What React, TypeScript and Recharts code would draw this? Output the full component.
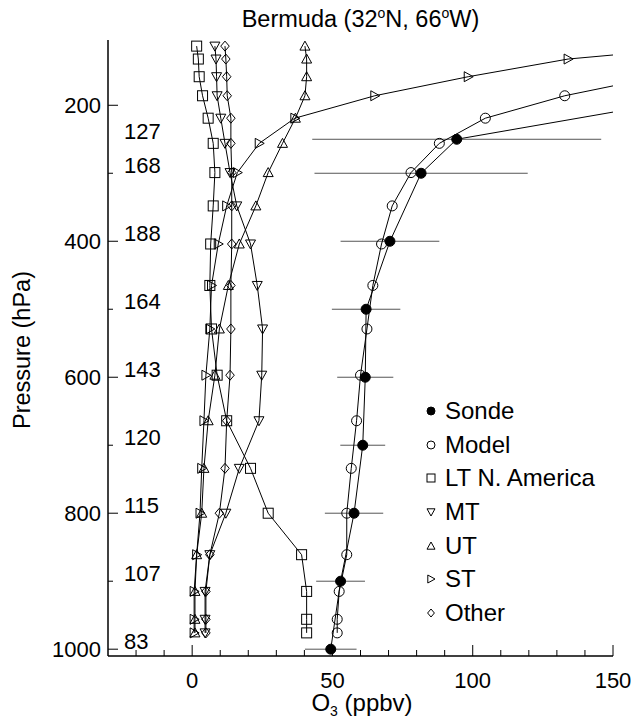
import React from "react";
import { ScatterChart, Scatter, XAxis, YAxis, ErrorBar } from "recharts";

// model levels (hPa) shared by the model and its tagged contributions
const MODEL_P = [113, 132, 158, 186, 219, 256, 299, 348, 404, 465, 529, 597, 664, 734, 800, 861, 915, 956, 976];
const MODEL_O3 = [230, 200, 166, 132.8, 104.5, 88.1, 78.0, 71.3, 67.5, 64.4, 62.3, 60.0, 58.6, 56.7, 55.1, 55.1, 52.4, 51.7, 51.7];
const LT_NAM = [1.6, 2.2, 2.5, 3.7, 5.7, 7.5, 8.1, 7.5, 6.6, 6.3, 6.9, 8.9, 12.3, 20.8, 27.1, 39.0, 40.8, 40.8, 40.8];
const MT = [8.1, 8.5, 8.7, 8.9, 10.2, 11.7, 13.5, 15.9, 20.8, 23.2, 25.1, 24.8, 23.8, 16.8, 12.0, 6.3, 4.6, 4.6, 4.6];
const UT = [40.2, 40.8, 40.8, 40.2, 36.8, 32.2, 27.1, 22.7, 16.8, 12.9, 9.7, 8.1, 5.7, 4.2, 3.4, 1.6, 1.0, 1.0, 1.0];
const ST = [185, 134.0, 98.4, 65.1, 36.6, 23.9, 16.1, 12.3, 9.3, 6.9, 6.3, 4.9, 4.2, 3.4, 2.8, 1.6, 0.7, 0.7, 0.7];
const OTHER = [11.7, 12.0, 12.3, 12.5, 13.8, 13.8, 14.1, 14.1, 14.1, 13.8, 13.8, 13.5, 12.3, 11.7, 9.7, 6.3, 4.9, 4.9, 4.9];

// ozonesonde means with spread
const SONDE_P = [200, 250, 300, 400, 500, 600, 700, 800, 900, 1000];
const SONDE_O3 = [164, 94.3, 81.6, 70.5, 62.0, 61.7, 60.8, 57.7, 52.9, 49.4];
const SONDE_ERR = [0, 51.5, 38, 17.6, 12.2, 10, 8, 10.4, 8.7, 9.2];

// number of soundings at each level
const COUNT_P = [250, 300, 400, 500, 600, 700, 800, 900, 1000];
const COUNT_N = [127, 168, 188, 164, 143, 120, 115, 107, 83];

const X_TICKS = [-20, -10, 0, 10, 20, 30, 40, 50, 60, 70, 80, 90, 100, 110, 120, 130, 140, 150];
const Y_TICKS = [200, 300, 400, 500, 600, 700, 800, 900, 1000];
const LEGEND_NAMES = ["Sonde", "Model", "LT N. America", "MT", "UT", "ST", "Other"];
const LEGEND_KINDS = ["dot", "circle", "square", "down", "up", "right", "diamond"];

const FONT = '"Liberation Sans", Arial, Helvetica, sans-serif';
const COUNT_X = -24.3;

const toPoints = (vals: number[]) => MODEL_P.map((p, i) => ({ x: vals[i], y: p }));

const sondeData = SONDE_P.map((p, i) => ({ x: SONDE_O3[i], y: p, err: SONDE_ERR[i] }));
const countData = COUNT_P.map((p, i) => ({ x: COUNT_X, y: p, n: COUNT_N[i] }));

const markerPath = (kind: string, cx: number, cy: number, s: number) => {
  switch (kind) {
    case "dot":
      return <circle cx={cx} cy={cy} r={s} fill="#000" stroke="#000" />;
    case "circle":
      return <circle cx={cx} cy={cy} r={s} fill="none" stroke="#000" />;
    case "square":
      return <rect x={cx - s} y={cy - s} width={2 * s} height={2 * s} fill="none" stroke="#000" />;
    case "down":
      return <path d={`M${cx - s},${cy - s * 0.8}L${cx + s},${cy - s * 0.8}L${cx},${cy + s}Z`} fill="none" stroke="#000" />;
    case "up":
      return <path d={`M${cx - s},${cy + s * 0.8}L${cx + s},${cy + s * 0.8}L${cx},${cy - s}Z`} fill="none" stroke="#000" />;
    case "right":
      return <path d={`M${cx - s * 0.8},${cy - s}L${cx - s * 0.8},${cy + s}L${cx + s},${cy}Z`} fill="none" stroke="#000" />;
    default:
      return <path d={`M${cx},${cy - s}L${cx + s * 0.85},${cy}L${cx},${cy + s}L${cx - s * 0.85},${cy}Z`} fill="none" stroke="#000" />;
  }
};

const shapeOf = (kind: string, s: number) => (props: any) => markerPath(kind, props.cx, props.cy, s);

const countShape = (props: any) => (
  <text x={props.cx} y={props.cy} fontSize={22} fontFamily={FONT} fill="#000">
    {props.payload.n}
  </text>
);

const BottomTick = (props: any) => {
  const { x, y, payload } = props;
  const major = payload.value % 50 === 0;
  return (
    <g>
      <line x1={x} x2={x} y1={y} y2={y - (major ? 11 : 6)} stroke="#000" />
      {major && (
        <text x={x} y={y + 32} textAnchor="middle" fontSize={22} fontFamily={FONT} fill="#000">
          {payload.value}
        </text>
      )}
    </g>
  );
};

const TopTick = (props: any) => {
  const { x, y, payload } = props;
  const major = payload.value % 50 === 0;
  return <line x1={x} x2={x} y1={y} y2={y + (major ? 11 : 6)} stroke="#000" />;
};

const LeftTick = (props: any) => {
  const { x, y, payload } = props;
  const major = payload.value % 200 === 0;
  return (
    <g>
      <line x1={x} x2={x + (major ? 10 : 5)} y1={y} y2={y} stroke="#000" />
      {major && (
        <text x={x - 7} y={y + 8} textAnchor="end" fontSize={22} fontFamily={FONT} fill="#000">
          {payload.value}
        </text>
      )}
    </g>
  );
};

const RightTick = (props: any) => {
  const { x, y, payload } = props;
  const major = payload.value % 200 === 0;
  return <line x1={x} x2={x - (major ? 10 : 5)} y1={y} y2={y} stroke="#000" />;
};

const XLabel = () => (
  <text x={362} y={711} textAnchor="middle" fontSize={24} fontFamily={FONT} fill="#000">
    O<tspan dy={5} fontSize={14}>3</tspan>
    <tspan dy={-5}> (ppbv)</tspan>
  </text>
);

const YLabel = () => (
  <text x={30} y={350} transform="rotate(-90, 30, 350)" textAnchor="middle" fontSize={23.5} fontFamily={FONT} fill="#000">
    Pressure (hPa)
  </text>
);

const Title = () => (
  <div
    style={{
      position: "absolute",
      left: 108,
      top: 6,
      width: 505,
      textAlign: "center",
      fontFamily: FONT,
      fontSize: 23.5,
      lineHeight: "27px",
      color: "#000",
    }}
  >
    Bermuda (32<sup style={{ fontSize: 14, lineHeight: 0 }}>o</sup>N, 66<sup style={{ fontSize: 14, lineHeight: 0 }}>o</sup>W)
  </div>
);

const LegendBox = () => (
  <div style={{ position: "absolute", left: 425, top: 394, fontFamily: FONT, fontSize: 24, color: "#000" }}>
    {LEGEND_NAMES.map((name, i) => (
      <div key={name} style={{ height: 33.7, display: "flex", alignItems: "center" }}>
        <svg width={12} height={12} style={{ marginRight: 8 }}>
          {markerPath(LEGEND_KINDS[i], 6, 6, 4)}
        </svg>
        <span>{name}</span>
      </div>
    ))}
  </div>
);

const lineStyle = { stroke: "#000", strokeWidth: 1 };

export default function App() {
  return (
    <div style={{ width: 636, height: 718, position: "relative", background: "#fff" }}>
      <style>{"body{margin:0}"}</style>
      <ScatterChart width={636} height={718} margin={{ top: 40, right: 23, bottom: 0, left: 0 }}>
        <XAxis
          dataKey="x"
          type="number"
          domain={[-30, 150]}
          allowDataOverflow
          ticks={X_TICKS}
          interval={0}
          tickSize={0}
          tickMargin={0}
          height={62}
          tickLine={false}
          axisLine={{ stroke: "#000", strokeWidth: 1.5 }}
          tick={<BottomTick />}
          label={{ content: <XLabel /> }}
        />
        <XAxis
          xAxisId="top"
          orientation="top"
          dataKey="x"
          type="number"
          domain={[-30, 150]}
          allowDataOverflow
          ticks={X_TICKS}
          interval={0}
          tickSize={0}
          tickMargin={0}
          height={0}
          tickLine={false}
          axisLine={{ stroke: "#000", strokeWidth: 1.5 }}
          tick={<TopTick />}
        />
        <YAxis
          dataKey="y"
          type="number"
          domain={[104, 1010]}
          reversed
          allowDataOverflow
          ticks={Y_TICKS}
          interval={0}
          tickSize={0}
          tickMargin={0}
          width={108}
          tickLine={false}
          axisLine={{ stroke: "#000", strokeWidth: 1.5 }}
          tick={<LeftTick />}
          label={{ content: <YLabel /> }}
        />
        <YAxis
          yAxisId="right"
          orientation="right"
          dataKey="y"
          type="number"
          domain={[104, 1010]}
          reversed
          allowDataOverflow
          ticks={Y_TICKS}
          interval={0}
          tickSize={0}
          tickMargin={0}
          width={0}
          tickLine={false}
          axisLine={{ stroke: "#000", strokeWidth: 1.5 }}
          tick={<RightTick />}
        />
        <Scatter name="counts" data={countData} shape={countShape} isAnimationActive={false} />
        <Scatter name="LT N. America" data={toPoints(LT_NAM)} shape={shapeOf("square", 5)} line={lineStyle} isAnimationActive={false} />
        <Scatter name="MT" data={toPoints(MT)} shape={shapeOf("down", 5)} line={lineStyle} isAnimationActive={false} />
        <Scatter name="UT" data={toPoints(UT)} shape={shapeOf("up", 5)} line={lineStyle} isAnimationActive={false} />
        <Scatter name="ST" data={toPoints(ST)} shape={shapeOf("right", 5)} line={lineStyle} isAnimationActive={false} />
        <Scatter name="Other" data={toPoints(OTHER)} shape={shapeOf("diamond", 5)} line={lineStyle} isAnimationActive={false} />
        <Scatter name="Model" data={toPoints(MODEL_O3)} shape={shapeOf("circle", 5)} line={lineStyle} isAnimationActive={false} />
        <Scatter name="Sonde" data={sondeData} shape={shapeOf("dot", 5)} line={lineStyle} isAnimationActive={false}>
          <ErrorBar dataKey="err" direction="x" width={0} stroke="#555" strokeWidth={1} />
        </Scatter>
      </ScatterChart>
      <Title />
      <LegendBox />
    </div>
  );
}
